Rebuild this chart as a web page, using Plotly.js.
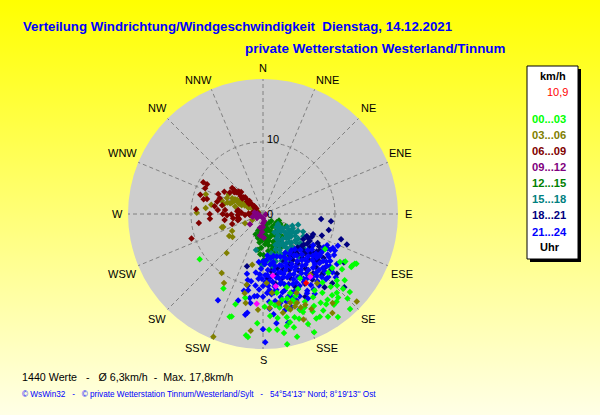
<!DOCTYPE html>
<html><head><meta charset="utf-8">
<script src="https://cdn.plot.ly/plotly-3.0.1.min.js"></script>
<style>
html,body{margin:0;padding:0;width:600px;height:415px;overflow:hidden;background:linear-gradient(#ffff00,#ffffe6);}
#c{width:600px;height:415px;}
</style></head><body><div id="c"></div>
<script>
// Readings as [direction in degrees, speed in km/h]
const h00_03 = [[208,11.7],[197,13.1],[192,11.9],[197,14.9],[198,15],[183,15.2],[177,16.1],[187,17.2],[188,17],[173,16.2],[170,16.8],[169.5,18.4],[164.5,17.7],[164.7,16.3],[157.7,16.5],[156.6,17.9],[153,16.3],[147.7,16.9],[144,17.7],[151,16.3],[157.8,14.7],[137.5,17.9],[131.9,16.2],[125,13.4],[118,14.7],[120,14.3],[136.9,15],[139.6,14.8],[143,14.9],[135,16.6],[138,15.6],[162,10.7],[161,11.6],[170,11.1],[167.5,12.2],[161,12.6],[154.5,13.5],[149,13.5],[147,14.7],[143,13.7],[137,13.8],[132,13.8],[159,14.3],[167,14.7],[179,12.9],[172.5,12.8],[166,15.5],[172,14.6],[234.5,10.8],[122,12.6],[120,13.2],[121,14.3],[118.5,14.5],[119.5,9.9],[134,14.3],[128,12.2],[132,12.2],[150,10.3],[158,12.2],[155,11.5],[165,13.6],[163,15],[153,15.2],[148,15.8],[142,16],[170,13.2],[176,14.2],[160,13.1],[146,12.8],[139,12.6],[156,14.2],[151,14.6],[145,15.3],[140,15.9],[168,15.9],[161,15.4],[133,15.2],[129,14.6],[175,12.4],[164,12.2]];
const h03_06 = [[289,8.4],[276,8],[280,7.3],[271,9.2],[300,5.5],[294,5.5],[288,5.2],[288,4.8],[299,4.1],[297,4.8],[298,4.4],[296,4],[299,3.6],[297,3.2],[300,2.8],[296,2.4],[298,2],[300,1.6],[295,1.2],[297,.8],[293,3.6],[301,3.4],[294,4.4],[285,4],[292,3.2],[252,5.8],[252,6],[241,4.9],[237,5.6],[233,5.3],[243,2.8],[241,1.7],[223,7.4],[192,7.2],[215,10],[209.5,11],[193,10.1],[193,11.3],[191,12.6],[202,18.4],[186,16.3],[173.5,11],[177,9.6],[183,13.3],[176,13.1],[159,13.2],[164,13.8],[168.6,14],[159,15.7],[142,15.7],[145,16.8],[133,17.8],[153,14.8],[142,12.2],[142,10.7],[157,11.9],[161,13.6],[163,12.9],[158,14],[166,13.2],[155,13.9],[170,12.6],[290,4.6],[295,2.8],[293,2.2],[288,6],[284,5.6]];
const h06_09 = [[298,9.4],[298,8.8],[294,8.8],[287,9.1],[284,8.5],[285,8.05],[274,9.3],[262,9],[251,10.5],[270,7.4],[265,7.4],[252,4.5],[310,5.6],[310,5.2],[309,4.8],[311,4.4],[309,4],[310,3.6],[312,3.2],[308,2.8],[310,2.4],[311,2],[309,1.6],[310,1.2],[310,4.7],[315,4.3],[290,6.4],[285,6.6],[279,6.8],[282,5.8],[276,5.3],[268,5],[270,5.6],[279,3.5],[268,3.5],[262,4.2],[262,3.5],[267,2.5],[278,1.5],[280,.7],[275,6.3],[294,6.8],[273,3],[265,1.8],[272,1.1],[258,3.4],[307,5],[313,4.6],[307,3.6],[313,3.4],[306,2.4],[314,2.6],[306,1.4],[312,1.6],[269,4.4],[276,3.6],[272,2],[261,5.4],[256,3.6],[300,6.2],[303,5.5]];
const h09_12 = [[236,1],[232,2.3],[180,1.8],[183,2.5],[180,1.3],[180,.6],[260,.9],[275,.8],[280,1.2],[255,1.5],[170,1],[192,1.9],[188,3],[178,3.3],[100,.4],[240,.5]];
const h12_15 = [[192,3.4],[179,5.7],[179,6.4],[183,4.7],[185,3.2],[178,2.8],[174,3.6],[170,4.4],[165,5],[172,5.2],[165,3.4],[160,4.1],[155,4.8],[150,3.6],[147,4.4],[142,3],[140,4],[135,2.6],[155,2.8],[145,2.2],[130,3.3],[125,3],[120,2.8],[118,3.6],[180,2.2],[175,2.2],[168,2.4],[158,3.2],[162,5.6],[150,5.2],[187,4],[176,4.2],[190,2.6],[170,3.1],[166,1.9],[160,2.4],[188,5],[184,5.6],[181,3.6],[177,3.4],[172,4],[168,3.8],[163,4.6],[157,4.2],[152,3.2],[147,3.2],[143,3.6],[138,3.4],[133,2.2],[128,2.4],[122,2.2],[112,2.4],[186,2],[176,1.6],[160,1.5],[145,1.5],[130,1.5],[196,2.4],[200,3],[182,6.9]];
const h15_18 = [[191,5.1],[181,7.2],[107,5.1],[114,6.1],[124,2.5],[118,3.8],[130,4],[128,5],[125,6],[120,5.2],[122,4.2],[134,3.5],[136,4.6],[135,5.6],[138,6.4],[133,6.8],[145,3.7],[146,4.8],[145,5.8],[148,6.6],[144,7.2],[152,4.5],[155,5.5],[154,6.4],[158,7],[160,5.2],[162,6],[165,6.8],[168,5.6],[172,6.4],[170,7.4],[150,7.6],[140,7.8],[130,7.4],[128,6.6],[116,4.6],[132,4.4],[141,5.2],[150,4.2],[158,4.6],[126,3.4],[112,4.4],[116,5.4],[119,6.4],[121,4.8],[124,5.4],[127,4.5],[129,5.8],[131,6.2],[134,4.9],[137,5.4],[139,6],[142,4.4],[143,6.4],[147,5.3],[149,6.2],[151,3.9],[153,5],[156,6],[166,6.2],[176,6.6],[131,3.4],[138,3.2],[143,3.2],[148,3],[127,2.8],[134,2.6]];
const h18_21 = [[95,8.1],[96,9.5],[103.6,9.4],[112,7.5],[110,8.7],[116.6,6.8],[108,11.4],[110,12.4],[120,7.5],[127,7.1],[197,7.6],[132,15.2],[129,13.2],[140,13.3],[153,12.9],[134.5,11.7],[135,13.6],[131,11.4],[121,13.1],[125,8],[128,8.8],[132,7.6],[135,9],[138,8.2],[130,10],[135,10.4],[142,9.6],[145,8.4],[148,9.2],[140,10.8],[150,10.2],[155,8.6],[157,9.6],[152,7.9],[160,8.2],[163,9.3],[165,7.8],[168,8.7],[170,9.8],[123,9.4],[126,10.4],[120,9],[118,8.6],[143,11.4],[149,11.3],[156,11.1],[162,10.6],[172,8],[176,8.9],[147,7.6],[139,7.4],[131,9.4],[136,11.8],[129,12.2],[115,7.5],[118,7.1],[122,6.6],[124,7.4],[127,8.2],[130,8.4],[133,8],[129,7],[134,6.7],[139,6.9],[142,7],[147,6.9],[122,8.2],[125,9.1],[128,9.7],[133,9.9],[153,7],[156,7.2]];
const h21_24 = [[207.6,13.5],[179,17.8],[180,16],[190,14.2],[189,13.9],[189,11.8],[191,10.8],[180,11.5],[180,10],[174,14],[173,15.3],[167,15.5],[159,14.2],[185,6.7],[176,8.5],[178,8.5],[113,11.3],[116,9.9],[116,10.8],[118,10.1],[184,9],[186,10],[193,9.4],[196,12.5],[188,12.5],[195,8.6],[175,10.6],[172,9.5],[170,10.7],[168,11.8],[166,10],[164,11],[162,9.2],[160,10.4],[158,11.6],[155,10],[153,11.2],[150,9],[150,12.3],[148,10.6],[146,11.9],[144,10.2],[142,12.6],[140,9.2],[138,11],[136,12.6],[134,10],[132,11.2],[130,12.6],[128,10.6],[125,11.4],[124,9.7],[122,10.6],[120,11.4],[118,10.6],[172,12.2],[176,12.2],[182,7.6],[178,7],[172,7.1],[168,6.8],[165,8.4],[162,7.5],[158,8.4],[155,7.5],[150,8],[146,9.4],[143,7.2],[140,8.4],[136,7.8],[133,8.6],[130,9],[127,9.2],[165,12.6],[161,12.3],[156,12.5],[152,13.3],[147,13.2],[142,11.1],[137,10.2],[134,12.6],[170,13],[176,13.2],[167,13.7],[163,13.5],[184,11.4],[174,11.2],[160,11.6],[157,10.6],[153,9.4],[148,8.6],[175,7.8],[166,9.2],[128,11.8],[124,12.4],[131,13.4],[122,8.2],[126,8.4],[129,8],[134,7.2],[138,6.6],[142,6.4],[146,6.6],[150,6.2],[154,6.6],[158,6.4],[162,6.2],[166,6],[170,6.2],[174,5.8],[176,6.4],[180,6.6],[183,8.4],[187,8.2],[190,9.5],[192,10.2],[194,11],[186,11.5],[183,10.5],[178,9.4],[175,9.4],[171,10.2],[168,9],[165,9.8],[163,10.2],[161,8.8],[159,9.4],[156,9.2],[154,10.6],[152,8.4],[151,10],[149,11],[147,9.8],[145,10.8],[143,9],[141,10],[139,11.4],[137,9],[135,11],[133,9.4],[131,10.4],[129,9.6],[127,11],[126,9.8],[123,10.9],[121,9.8],[119,9.6],[117,11.2],[172,11],[177,11],[169,12.6],[166,11.2],[163,12],[159,12.8],[155,11.5],[151,12.6],[146,12.6],[141,12],[137,12],[133,11.8],[129,11.4],[176,10],[181,9],[173,8.8],[169,8],[167,7.4],[163,8.5],[160,7.6],[156,8],[153,7],[149,7.2],[144,8.1],[141,7.4],[137,8.6]];
const aktuellMagenta = [[170,10.2],[184,12.5],[171,8.7],[143,10.9]];
const aktuellRot = [[148,11.3]];

const rings = [0, 10];
const ringLabels = ['0', '10'];
const dirTicks = [0,22.5,45,67.5,90,112.5,135,157.5,180,202.5,225,247.5,270,292.5,315,337.5];
const dirLabels = ['N','NNE','NE','ENE','E','ESE','SE','SSE','S','SSW','SW','WSW','W','WNW','NW','NNW'];
const hourNames = ['00...03','03...06','06...09','09...12','12...15','15...18','18...21','21...24'];
const hourColors = ['#00ff00','#808000','#800000','#800080','#008000','#008080','#000080','#0000ff'];
const hourData = [h00_03,h03_06,h06_09,h09_12,h12_15,h15_18,h18_21,h21_24];
const drawOrder = [4,5,6,7,0,1,2,3];

const W=600,H=415,FONT='"Liberation Sans",Arial,sans-serif';
const fx=x=>x/W, fy=y=>1-y/H;
function trace(pairs,color,name){return {type:'scatterpolar',mode:'markers',name:name,
  theta:pairs.map(p=>p[0]),r:pairs.map(p=>p[1]),
  marker:{symbol:'diamond',size:5,color:color,line:{width:0}},hoverinfo:'name+r+theta'};}
const traces = drawOrder.map(i=>trace(hourData[i],hourColors[i],hourNames[i]));
traces.push(trace(aktuellMagenta,'#ff00ff','aktuell'));
traces.push(trace(aktuellRot,'#ff0000','10,9'));

function ann(text,x,y,size,color,bold,anchor){return {xref:'paper',yref:'paper',x:fx(x),y:fy(y),text:bold?'<b>'+text+'</b>':text,
  showarrow:false,xanchor:anchor||'center',yanchor:'middle',font:{family:FONT,size:size,color:color}};}
const rowY=[119,135,151,167,183,199,215,232];
const labelX=[263,327,368,400,408,402,368,327,263,198,157,123,117,123,157,198];
const labelY=[68,80,108,153,214,274,319,348,360,348,319,274,214,153,108,80];
const ringLabelX=[270,273], ringLabelY=[214,139];
const sp=n=>'&nbsp;'.repeat(n);
const annotations=[
  ann('private Wetterstation Westerland/Tinnum',243,49,13.4,'#0000ff',true,'left'),
  ann('km/h',553,76,11,'#000000',true),
  ann('10,9',570,92,11,'#ff0000',false,'right'),
  ann('Uhr',550,247,11,'#000000',true),
  ann('1440 Werte'+sp(3)+'-'+sp(3)+'Ø 6,3km/h'+sp(2)+'-'+sp(2)+'Max. 17,8km/h',20,377,10.7,'#000000',false,'left'),
  ann("© WsWin32"+sp(3)+"-"+sp(3)+"© private Wetterstation Tinnum/Westerland/Sylt"+sp(3)+"-"+sp(3)+"54°54'13'' Nord; 8°19'13'' Ost",20,394,8.2,'#0000ff',false,'left')
].concat(hourNames.map((n,i)=>ann(n,549,rowY[i],11.2,hourColors[i],true)))
 .concat(dirLabels.map((n,i)=>ann(n,labelX[i],labelY[i],11,'#000000',false)))
 .concat(ringLabels.map((n,i)=>ann(n,ringLabelX[i],ringLabelY[i],11,'#000000',false)));

const shapes=[
 {type:'rect',xref:'paper',yref:'paper',x0:fx(530),x1:fx(581),y0:fy(69),y1:fy(262),fillcolor:'#000000',line:{width:0},layer:'below'},
 {type:'rect',xref:'paper',yref:'paper',x0:fx(527),x1:fx(578),y0:fy(66),y1:fy(259),fillcolor:'#ffffff',line:{color:'#000000',width:1},layer:'below'}
];
const DASH='4px,3px';
const layout={width:W,height:H,margin:{l:0,r:0,t:0,b:0},showlegend:false,
 paper_bgcolor:'rgba(0,0,0,0)',plot_bgcolor:'rgba(0,0,0,0)',font:{family:FONT,color:'#000000',size:11},
 title:{text:'<b>Verteilung Windrichtung/Windgeschwindigkeit  Dienstag, 14.12.2021</b>',x:fx(23),xanchor:'left',y:fy(26),yanchor:'middle',font:{family:FONT,size:13.25,color:'#0000ff'}},
 polar:{domain:{x:[fx(128),fx(398)],y:[fy(349),fy(79)]},bgcolor:'#cdcdcd',
  angularaxis:{direction:'clockwise',rotation:90,tickmode:'array',tickvals:dirTicks,ticktext:dirLabels,showline:false,ticks:'',showticklabels:false,
    gridcolor:'#808080',griddash:DASH,gridwidth:1},
  radialaxis:{range:[0,18.75],angle:90,side:'clockwise',tickmode:'array',tickvals:rings,ticktext:ringLabels,showline:false,ticks:'',showticklabels:false,
    gridcolor:'#808080',griddash:DASH,gridwidth:1}},
 annotations:annotations,shapes:shapes};
Plotly.newPlot('c',traces,layout,{displayModeBar:false,staticPlot:true});
</script></body></html>
